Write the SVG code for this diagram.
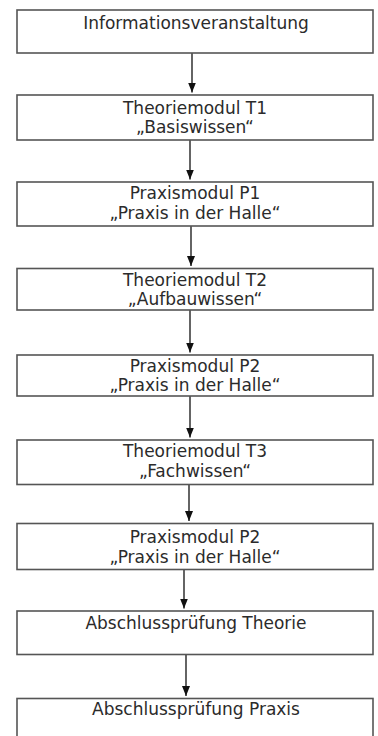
<svg xmlns="http://www.w3.org/2000/svg" width="378" height="736" viewBox="0 0 378 736">
<style>
.box{fill:#ffffff;stroke:#555555;stroke-width:1.6}
.lbl{font-family:"DejaVu Sans","Verdana",sans-serif;font-size:17px;fill:#2b2b2b;text-anchor:middle}
.conn{stroke:#111111;stroke-width:1.3;fill:none;marker-end:url(#ah)}
</style>
<defs>
<marker id="ah" markerUnits="userSpaceOnUse" markerWidth="10" markerHeight="8" refX="10" refY="4" orient="auto">
<path d="M0,0 L10,4 L0,8 z" fill="#111111"/>
</marker>
</defs>
<rect width="378" height="736" fill="#ffffff"/>
<g id="connectors">
<line class="conn" x1="192" y1="53" x2="192" y2="92.5"/>
<line class="conn" x1="190" y1="140" x2="190" y2="179.5"/>
<line class="conn" x1="191" y1="226" x2="191" y2="266"/>
<line class="conn" x1="190" y1="310" x2="190" y2="352.5"/>
<line class="conn" x1="190" y1="396" x2="190" y2="437.5"/>
<line class="conn" x1="189" y1="484.5" x2="189" y2="521"/>
<line class="conn" x1="184" y1="569.5" x2="184" y2="608.5"/>
<line class="conn" x1="186" y1="654.5" x2="186" y2="696"/>
</g>
<g id="n1"><rect class="box" x="17" y="10" width="356" height="43"/><text class="lbl" x="196" y="28.5">Informationsveranstaltung</text></g>
<g id="n2"><rect class="box" x="17" y="95" width="356" height="45"/><text class="lbl" x="195" y="113.5">Theoriemodul T1</text><text class="lbl" x="195" y="133">„Basiswissen“</text></g>
<g id="n3"><rect class="box" x="17" y="182" width="356" height="44"/><text class="lbl" x="195" y="199">Praxismodul P1</text><text class="lbl" x="195" y="219">„Praxis in der Halle“</text></g>
<g id="n4"><rect class="box" x="17" y="268.5" width="356" height="41.5"/><text class="lbl" x="195" y="285.5">Theoriemodul T2</text><text class="lbl" x="195" y="305">„Aufbauwissen“</text></g>
<g id="n5"><rect class="box" x="17" y="355" width="356" height="41"/><text class="lbl" x="195" y="371.5">Praxismodul P2</text><text class="lbl" x="195" y="390.5">„Praxis in der Halle“</text></g>
<g id="n6"><rect class="box" x="17" y="440" width="356" height="44.5"/><text class="lbl" x="195" y="457">Theoriemodul T3</text><text class="lbl" x="195" y="477">„Fachwissen“</text></g>
<g id="n7"><rect class="box" x="17" y="523.5" width="356" height="46"/><text class="lbl" x="195" y="542.5">Praxismodul P2</text><text class="lbl" x="195" y="563">„Praxis in der Halle“</text></g>
<g id="n8"><rect class="box" x="17" y="611" width="356" height="43.5"/><text class="lbl" x="196" y="628.5">Abschlussprüfung Theorie</text></g>
<g id="n9"><rect class="box" x="17" y="698.5" width="356" height="45"/><text class="lbl" x="196" y="715">Abschlussprüfung Praxis</text></g>
</svg>
